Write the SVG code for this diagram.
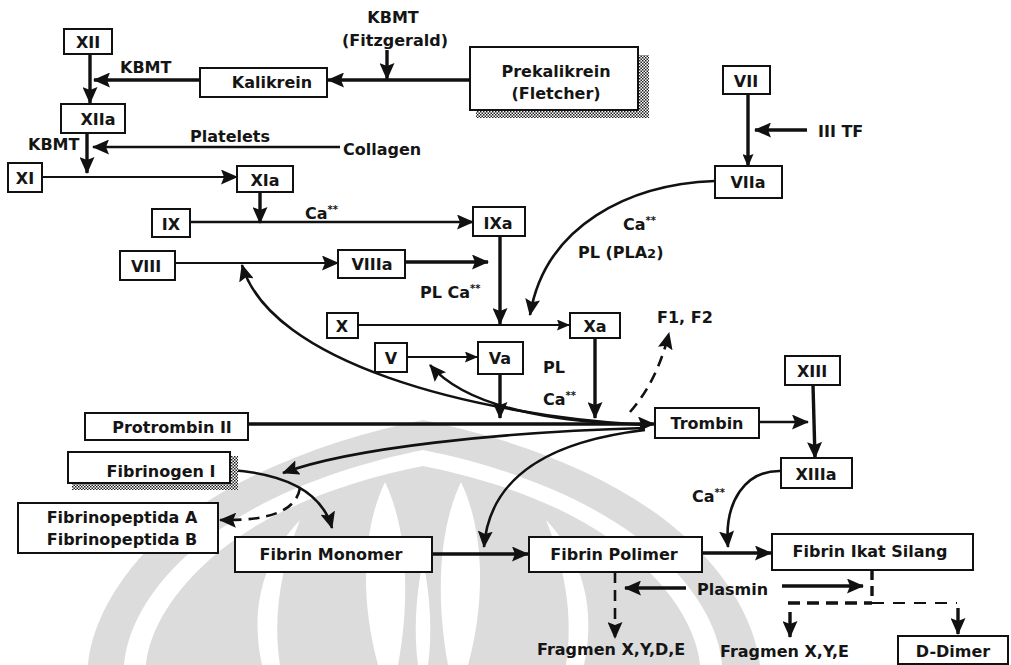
<svg xmlns="http://www.w3.org/2000/svg" width="1011" height="665" viewBox="0 0 1011 665">
<style>
.box{fill:#fff;stroke:#111;stroke-width:2}
.t{font-family:"DejaVu Sans","Liberation Sans",sans-serif;font-weight:bold;font-size:16px;fill:#151515}
.c{text-anchor:middle}
.sup{font-size:10px}
.ln{stroke:#111;fill:none;stroke-width:2.6}
.th{stroke-width:3.4}
.tn{stroke-width:1.8}
.d{stroke-dasharray:11 7}
.wm{fill:#dcdcdc}
</style>
<defs>
<marker id="a" markerUnits="userSpaceOnUse" markerWidth="17" markerHeight="15" viewBox="0 0 17 15" refX="16" refY="7.5" orient="auto">
<path d="M0,0 L17,7.5 L0,15 L3,7.5 Z" fill="#111"/>
</marker>
<marker id="s" markerUnits="userSpaceOnUse" markerWidth="13" markerHeight="11" viewBox="0 0 13 11" refX="12" refY="5.5" orient="auto">
<path d="M0,0 L13,5.5 L0,11 L2,5.5 Z" fill="#111"/>
</marker>
<pattern id="h" width="3" height="3" patternUnits="userSpaceOnUse">
<rect width="3" height="3" fill="#fff"/>
<rect width="1.5" height="1.5" fill="#222"/>
<rect x="1.5" y="1.5" width="1.5" height="1.5" fill="#222"/>
</pattern>
</defs>
<rect width="1011" height="665" fill="#fff"/>
<g id="watermark">
<path class="wm" d="M423,420 C520,440 640,482 708,560 C745,602 757,640 760,665 L88,665 C90,640 102,602 138,560 C206,482 326,440 423,420 Z"/>
<path fill="#fff" d="M423,450 C508,467 612,503 676,572 C708,607 720,640 722,665 L124,665 C126,640 138,607 170,572 C234,503 338,467 423,450 Z"/>
<path class="wm" d="M423,466 C503,482 598,514 657,580 C686,612 698,642 700,665 L146,665 C148,642 160,612 189,580 C248,514 343,482 423,466 Z"/>
<path fill="#fff" d="M385,482 C362,530 360,600 378,665 L398,665 C410,600 408,530 385,482 Z"/>
<path fill="#fff" d="M461,482 C484,530 486,600 468,665 L448,665 C436,600 438,530 461,482 Z"/>
<path fill="#fff" d="M300,520 C262,560 250,610 262,665 L280,665 C272,615 282,565 300,520 Z"/>
<path fill="#fff" d="M546,520 C584,560 596,610 584,665 L566,665 C574,615 564,565 546,520 Z"/>
<path fill="#fff" d="M423,560 C415,600 414,635 418,665 L428,665 C432,635 431,600 423,560 Z"/>
</g>
<g id="connectors">
<line class="ln th" x1="90" y1="54" x2="90" y2="103" marker-end="url(#a)"/>
<line class="ln th" x1="200" y1="80" x2="94" y2="80" marker-end="url(#a)"/>
<line class="ln th" x1="470" y1="80" x2="328" y2="80" marker-end="url(#a)"/>
<line class="ln th" x1="387" y1="50" x2="387" y2="79" marker-end="url(#a)"/>
<line class="ln th" x1="87" y1="133" x2="87" y2="173" marker-end="url(#a)"/>
<line class="ln" x1="340" y1="147" x2="93" y2="147" marker-end="url(#a)"/>
<line class="ln tn" x1="42" y1="177" x2="237" y2="177" marker-end="url(#a)"/>
<line class="ln th" x1="260" y1="192" x2="260" y2="223" marker-end="url(#a)"/>
<line class="ln" x1="190" y1="222" x2="473" y2="222" marker-end="url(#a)"/>
<line class="ln th" x1="748" y1="94" x2="748" y2="166" marker-end="url(#s)"/>
<line class="ln th" x1="807" y1="130" x2="755" y2="130" marker-end="url(#a)"/>
<path class="ln" d="M715,181 C630,184 545,225 530,315" marker-end="url(#a)"/>
<line class="ln tn" x1="175" y1="263" x2="338" y2="263" marker-end="url(#a)"/>
<line class="ln th" x1="405" y1="262" x2="488" y2="262" marker-end="url(#a)"/>
<line class="ln th" x1="500" y1="236" x2="500" y2="324" marker-end="url(#a)"/>
<line class="ln tn" x1="358" y1="325" x2="569" y2="325" marker-end="url(#s)"/>
<line class="ln tn" x1="407" y1="357" x2="477" y2="357" marker-end="url(#s)"/>
<line class="ln th" x1="500" y1="374" x2="500" y2="418" marker-end="url(#a)"/>
<line class="ln th" x1="595" y1="338" x2="595" y2="418" marker-end="url(#a)"/>
<line class="ln th" x1="248" y1="424" x2="654" y2="424" marker-end="url(#a)"/>
<path class="ln" d="M645,425 C470,415 270,362 242,265" marker-end="url(#a)"/>
<path class="ln" d="M610,423 C530,418 462,402 430,365" marker-end="url(#a)"/>
<path class="ln" d="M645,428 C500,432 350,448 283,473" marker-end="url(#a)"/>
<path class="ln" d="M645,430 C560,440 490,470 484,547" marker-end="url(#a)"/>
<path class="ln d" d="M630,412 C645,395 660,370 669,333" marker-end="url(#a)"/>
<line class="ln" x1="759" y1="422" x2="808" y2="422" marker-end="url(#a)"/>
<line class="ln th" x1="813" y1="385" x2="815" y2="458" marker-end="url(#a)"/>
<path class="ln" d="M231,470 C285,474 322,492 332,528" marker-end="url(#a)"/>
<path class="ln d" d="M300,488 C296,510 272,521 220,520" marker-end="url(#a)"/>
<line class="ln th" x1="432" y1="554" x2="528" y2="554" marker-end="url(#a)"/>
<path class="ln" d="M781,471 C745,470 724,502 728,547" marker-end="url(#a)"/>
<line class="ln th" x1="702" y1="553" x2="771" y2="553" marker-end="url(#a)"/>
<line class="ln th" x1="686" y1="588" x2="625" y2="588" marker-end="url(#a)"/>
<line class="ln th" x1="782" y1="586" x2="863" y2="586" marker-end="url(#a)"/>
<line class="ln d" x1="615" y1="572" x2="615" y2="638" stroke-dasharray="14 10" marker-end="url(#a)"/>
<line class="ln th" x1="872" y1="570" x2="872" y2="603" stroke-dasharray="10 6"/>
<line class="ln th" x1="788" y1="603" x2="872" y2="603" stroke-dasharray="12 7"/>
<line class="ln tn" x1="872" y1="603" x2="957" y2="603" stroke-dasharray="12 9"/>
<line class="ln th" x1="790" y1="612" x2="790" y2="637" marker-end="url(#a)"/>
<line class="ln th" x1="958" y1="608" x2="958" y2="634" marker-end="url(#a)"/>
</g>
<g id="n-xii"><rect class="box" x="64" y="29" width="48" height="25"/><text class="t c" x="88" y="48">XII</text></g>
<g id="n-kalikrein"><rect class="box" x="200" y="68" width="127" height="29"/><text class="t c" x="272" y="88">Kalikrein</text></g>
<g id="n-prekalikrein"><path d="M638,55 H649 V118 H476 V110 H638 Z" fill="url(#h)"/><rect class="box" x="470" y="47" width="168" height="63"/><text class="t c" x="556" y="77">Prekalikrein</text><text class="t c" x="556" y="99">(Fletcher)</text></g>
<g id="n-xiia"><rect class="box" x="61" y="104" width="64" height="29"/><text class="t c" x="98" y="125">XIIa</text></g>
<g id="n-xi"><rect class="box" x="8" y="163" width="34" height="29"/><text class="t c" x="25" y="184">XI</text></g>
<g id="n-xia"><rect class="box" x="237" y="166" width="56" height="26"/><text class="t c" x="265" y="186">XIa</text></g>
<g id="n-ix"><rect class="box" x="152" y="209" width="38" height="28"/><text class="t c" x="171" y="230">IX</text></g>
<g id="n-ixa"><rect class="box" x="473" y="207" width="52" height="29"/><text class="t c" x="498" y="229">IXa</text></g>
<g id="n-vii"><rect class="box" x="723" y="66" width="47" height="28"/><text class="t c" x="746" y="87">VII</text></g>
<g id="n-viia"><rect class="box" x="715" y="166" width="67" height="32"/><text class="t c" x="748" y="188">VIIa</text></g>
<g id="n-viii"><rect class="box" x="120" y="251" width="55" height="29"/><text class="t c" x="146" y="272">VIII</text></g>
<g id="n-viiia"><rect class="box" x="338" y="250" width="67" height="28"/><text class="t c" x="372" y="270">VIIIa</text></g>
<g id="n-x"><rect class="box" x="327" y="313" width="31" height="25"/><text class="t c" x="342" y="332">X</text></g>
<g id="n-xa"><rect class="box" x="570" y="313" width="50" height="25"/><text class="t c" x="595" y="332">Xa</text></g>
<g id="n-v"><rect class="box" x="375" y="343" width="32" height="29"/><text class="t c" x="391" y="364">V</text></g>
<g id="n-va"><rect class="box" x="478" y="342" width="45" height="32"/><text class="t c" x="500" y="364">Va</text></g>
<g id="n-trombin"><rect class="box" x="655" y="408" width="104" height="30"/><text class="t c" x="707" y="429">Trombin</text></g>
<g id="n-xiii"><rect class="box" x="785" y="356" width="55" height="29"/><text class="t c" x="812" y="377">XIII</text></g>
<g id="n-protrombin"><rect class="box" x="85" y="413" width="163" height="27"/><text class="t c" x="172" y="433">Protrombin II</text></g>
<g id="n-fibrinogen"><path d="M230,456 H238 V490 H72 V483 H230 Z" fill="url(#h)"/><rect class="box" x="68" y="452" width="162" height="31"/><text class="t c" x="161" y="477">Fibrinogen I</text></g>
<g id="n-xiiia"><rect class="box" x="781" y="458" width="71" height="30"/><text class="t c" x="816" y="480">XIIIa</text></g>
<g id="n-fibrinopeptida"><rect class="box" x="18" y="503" width="200" height="50"/><text class="t c" x="122" y="523">Fibrinopeptida A</text><text class="t c" x="122" y="545">Fibrinopeptida B</text></g>
<g id="n-monomer"><rect class="box" x="235" y="537" width="197" height="35"/><text class="t c" x="331" y="560">Fibrin Monomer</text></g>
<g id="n-polimer"><rect class="box" x="529" y="537" width="173" height="35"/><text class="t c" x="614" y="560">Fibrin Polimer</text></g>
<g id="n-ikat"><rect class="box" x="772" y="534" width="201" height="36"/><text class="t c" x="870" y="557">Fibrin Ikat Silang</text></g>
<g id="n-ddimer"><rect class="box" x="898" y="636" width="110" height="28"/><text class="t c" x="953" y="657">D-Dimer</text></g>
<g id="labels">
<text class="t" x="120" y="73">KBMT</text>
<text class="t c" x="393" y="23">KBMT</text>
<text class="t c" x="395" y="46">(Fitzgerald)</text>
<text class="t" x="28" y="150">KBMT</text>
<text class="t" x="190" y="142">Platelets</text>
<text class="t" x="343" y="155">Collagen</text>
<text class="t" x="305" y="219">Ca<tspan class="sup" dy="-6">**</tspan></text>
<text class="t" x="623" y="230">Ca<tspan class="sup" dy="-6">**</tspan></text>
<text class="t" x="578" y="258">PL (PLA<tspan font-size="13">2</tspan>)</text>
<text class="t" x="420" y="298">PL Ca<tspan class="sup" dy="-6">**</tspan></text>
<text class="t" x="657" y="323">F1, F2</text>
<text class="t" x="543" y="373">PL</text>
<text class="t" x="543" y="405">Ca<tspan class="sup" dy="-6">**</tspan></text>
<text class="t" x="818" y="137">III TF</text>
<text class="t" x="692" y="502">Ca<tspan class="sup" dy="-6">**</tspan></text>
<text class="t" x="697" y="595">Plasmin</text>
<text class="t" x="537" y="655">Fragmen X,Y,D,E</text>
<text class="t" x="720" y="657">Fragmen X,Y,E</text>
</g>
</svg>
